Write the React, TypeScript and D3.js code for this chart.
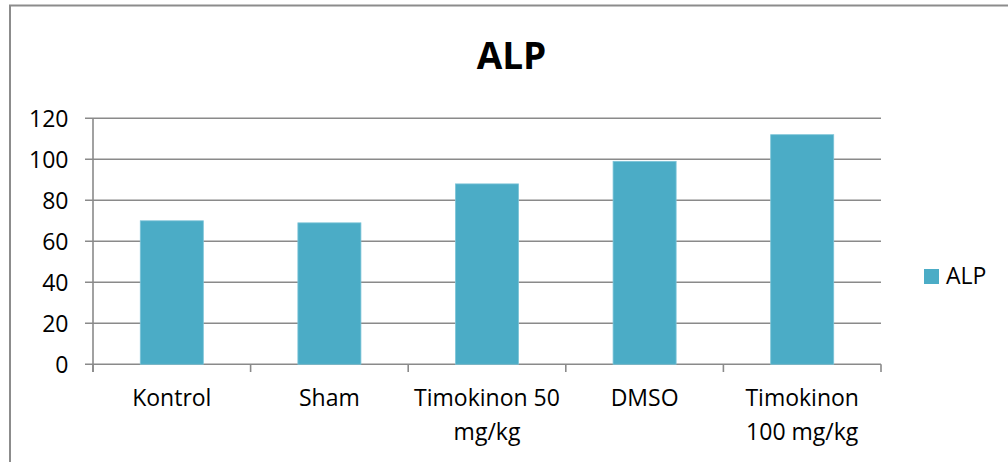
import React from "react";
import * as d3 from "d3";

const categories: string[][] = [
  ["Kontrol"],
  ["Sham"],
  ["Timokinon 50", "mg/kg"],
  ["DMSO"],
  ["Timokinon", "100 mg/kg"],
];
const alpValues: number[] = [70, 69, 88, 99, 112];
const yTicks: number[] = [0, 20, 40, 60, 80, 100, 120];
const seriesName = "ALP";
const chartTitle = "ALP";

const W = 1008;
const H = 462;
const plot = { left: 93, right: 881, top: 118.3, bottom: 364.3 };
const FONT = "'Open Sans', 'Liberation Sans', sans-serif";
const GRID = "#8a8a8a";
const BAR = "#4BACC6";

export default function App() {
  const keys = categories.map((_, i) => String(i));
  const x = d3.scaleBand<string>().domain(keys).range([plot.left, plot.right]).paddingInner(0).paddingOuter(0);
  const y = d3.scaleLinear().domain([0, 120]).range([plot.bottom, plot.top]);
  const bw = x.bandwidth() * 0.4;
  const bounds = keys.map((k) => x(k) as number).concat([plot.right]);

  return (
    <svg
      width={W}
      height={H}
      style={{ position: "absolute", left: 0, top: 0, background: "#fff", overflow: "hidden" }}
    >
      <rect x={0} y={0} width={W} height={H} fill="#fff" />
      <rect x={10} y={5.5} width={1200} height={600} fill="none" stroke="#8c8c8c" strokeWidth={2} />

      <text x={511.5} y={69.3} textAnchor="middle" fontFamily={FONT} fontWeight="bold" fontSize={37} fill="#000">
        {chartTitle}
      </text>

      {yTicks.map((t) => (
        <g key={t}>
          <line x1={85} x2={plot.right} y1={y(t)} y2={y(t)} stroke={GRID} strokeWidth={1.6} />
          <text
            x={68.5}
            y={y(t) + 8.4}
            textAnchor="end"
            fontFamily={FONT}
            fontSize={23}
            fill="#000"
          >
            {t}
          </text>
        </g>
      ))}

      <line x1={plot.left} x2={plot.left} y1={plot.top} y2={372} stroke={GRID} strokeWidth={1.6} />
      {bounds.map((bx, i) => (
        <line key={i} x1={bx} x2={bx} y1={plot.bottom} y2={372} stroke={GRID} strokeWidth={1.6} />
      ))}

      {alpValues.map((v, i) => {
        const cx = (x(keys[i]) as number) + x.bandwidth() / 2;
        return (
          <rect
            key={i}
            x={cx - bw / 2}
            y={y(v)}
            width={bw}
            height={y(0) - y(v)}
            fill={BAR}
            stroke="#7cc4d8"
            strokeWidth={0.8}
          />
        );
      })}

      {categories.map((lines, i) => {
        const cx = (x(keys[i]) as number) + x.bandwidth() / 2;
        return (
          <text key={i} x={cx} y={406} textAnchor="middle" fontFamily={FONT} fontSize={23} fill="#000">
            {lines.map((ln, j) => (
              <tspan key={j} x={cx} dy={j === 0 ? 0 : 34}>
                {ln}
              </tspan>
            ))}
          </text>
        );
      })}

      <rect x={924} y={269} width={15} height={15} fill={BAR} />
      <text x={946} y={283.5} fontFamily={FONT} fontSize={23} fill="#000">
        {seriesName}
      </text>
    </svg>
  );
}
